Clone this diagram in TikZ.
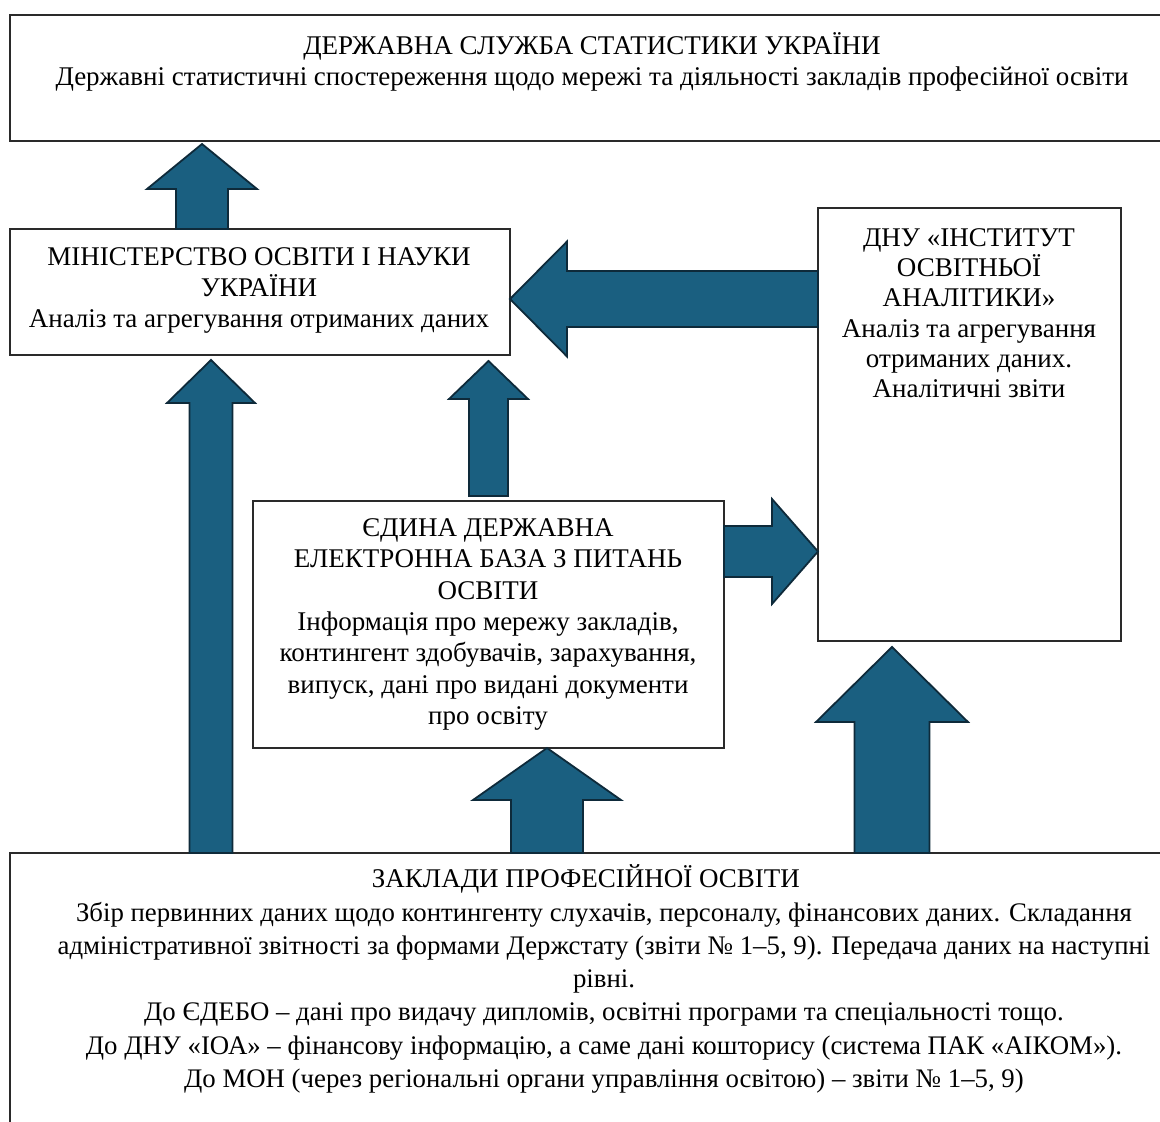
\documentclass[tikz,border=0pt]{standalone}
\usepackage{fontspec}
\setmainfont{Liberation Serif}
\definecolor{arrfill}{HTML}{1A5F80}
\definecolor{arrline}{HTML}{0E2A3A}
\definecolor{boxline}{HTML}{2A2A2A}
\tikzset{
  box/.style={draw=boxline, line width=1.2pt, rectangle, inner sep=0pt, outer sep=0pt, anchor=north west},
  txt/.style={align=center, inner sep=0pt, anchor=north, font=\fontsize{27}{30.5}\selectfont},
  blk/.style={fill=arrfill, draw=arrline, line width=1.8pt, line join=miter},
}
\newcommand\upblock[6]{% cx, tip y, head-base y, base y, shaft half, head half
  \filldraw[blk] (#1-#5,#4) -- (#1-#5,#3) -- (#1-#6,#3) -- (#1,#2) -- (#1+#6,#3) -- (#1+#5,#3) -- (#1+#5,#4) -- cycle;}
\newcommand\sideblock[6]{% cy, tip x, head-base x, base x, shaft half, head half
  \filldraw[blk] (#4,#1-#5) -- (#3,#1-#5) -- (#3,#1-#6) -- (#2,#1) -- (#3,#1+#6) -- (#3,#1+#5) -- (#4,#1+#5) -- cycle;}
\newcommand\firstline{\rule{0pt}{26pt}}
\begin{document}
\begin{tikzpicture}[x=1pt,y=-1pt]
\useasboundingbox (0,0) rectangle (1160,1122);
% boxes
\node[box, minimum width=1170pt, minimum height=126pt] (gss) at (10,15) {};
\node[box, minimum width=500pt, minimum height=126pt] (mon) at (10,229) {};
\node[box, minimum width=303pt, minimum height=433pt] (dnu) at (818,208) {};
\node[box, minimum width=471pt, minimum height=247pt] (edebo) at (253,501) {};
\node[box, minimum width=1170pt, minimum height=290pt] (zpo) at (10,853) {};
% texts
\node[txt, font=\fontsize{27}{31}\selectfont] (gsst) at (592,28.7) {\firstline ДЕРЖАВНА СЛУЖБА СТАТИСТИКИ УКРАЇНИ\\Державні статистичні спостереження щодо мережі та діяльності закладів професійної освіти};
\node[txt, font=\fontsize{27}{31}\selectfont] (mont) at (259,239) {\firstline МІНІСТЕРСТВО ОСВІТИ І НАУКИ\\УКРАЇНИ\\Аналіз та агрегування отриманих даних};
\node[txt, font=\fontsize{27}{30.3}\selectfont] (dnut) at (969,220) {\firstline ДНУ «ІНСТИТУТ\\ОСВІТНЬОЇ\\АНАЛІТИКИ»\\Аналіз та агрегування\\отриманих даних.\\Аналітичні звіти};
\node[txt, font=\fontsize{27}{31.4}\selectfont] (edebot) at (488,510) {\firstline ЄДИНА ДЕРЖАВНА\\ЕЛЕКТРОННА БАЗА З ПИТАНЬ\\ОСВІТИ\\Інформація про мережу закладів,\\контингент здобувачів, зарахування,\\випуск, дані про видані документи\\про освіту};
\node[txt] (zpoh) at (586,861) {\firstline ЗАКЛАДИ ПРОФЕСІЙНОЇ ОСВІТИ};
\node[txt, font=\fontsize{26.8}{33.2}\selectfont] (zpot) at (604,895) {\firstline Збір первинних даних щодо контингенту слухачів, персоналу, фінансових даних. Складання\\адміністративної звітності за формами Держстату (звіти № 1–5, 9). Передача даних на наступні\\рівні.\\До ЄДЕБО – дані про видачу дипломів, освітні програми та спеціальності тощо.\\До ДНУ «ІОА» – фінансову інформацію, а саме дані кошторису (система ПАК «АІКОМ»).\\До МОН (через регіональні органи управління освітою) – звіти № 1–5, 9)};
% block arrows
\upblock{202}{144}{189}{229}{26}{55}        % mon -> gss
\sideblock{299}{510}{567}{818}{28}{57.5}    % dnu -> mon
\upblock{488.5}{361}{399}{496}{19.5}{39.5}  % edebo -> mon
\sideblock{551.5}{818}{772}{724}{25.5}{52.5}% edebo -> dnu
\upblock{211}{360}{403}{853}{21.5}{44}      % zpo -> mon
\upblock{547}{748}{800}{853}{36}{74}        % zpo -> edebo
\upblock{892}{647}{722}{853}{37.5}{76}      % zpo -> dnu
\end{tikzpicture}
\end{document}
